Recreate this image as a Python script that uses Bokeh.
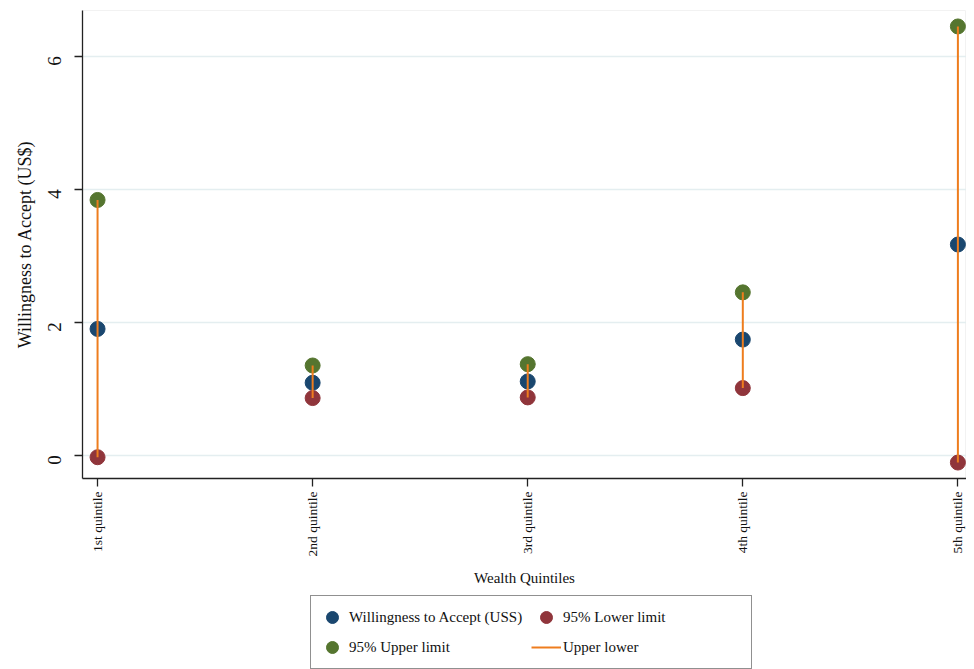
import math
from bokeh.plotting import figure
from bokeh.layouts import column
from bokeh.models import (Range1d, FixedTicker, Legend, LegendItem, ColumnDataSource)
from bokeh.embed import file_html
from bokeh.resources import INLINE

# ---- data ----
quintiles = ["1st quintile", "2nd quintile", "3rd quintile", "4th quintile", "5th quintile"]
wta = [1.90, 1.09, 1.11, 1.74, 3.17]
upper = [3.84, 1.35, 1.37, 2.45, 6.45]
lower = [-0.03, 0.86, 0.87, 1.01, -0.11]
y_ticks = [0, 2, 4, 6]
legend_labels = ["Willingness to Accept (USS)", "95% Lower limit", "95% Upper limit", "Upper lower"]

xpos = list(range(1, len(quintiles) + 1))
src = ColumnDataSource(dict(x=xpos, wta=wta, upper=upper, lower=lower))

SERIF = "Liberation Serif"
NAVY = "#1a476f"
MAROON = "#90353b"
GREEN = "#55752f"
ORANGE = "#ee7d1e"
INK = "#111111"

p = figure(frame_width=884, frame_height=468, output_backend="svg", toolbar_location=None,
           x_range=Range1d(0.93, 5.04), y_range=Range1d(-0.35, 6.69),
           min_border_left=82, min_border_top=10, min_border_right=0, min_border_bottom=112)
p.background_fill_color = "white"
p.border_fill_color = "white"
p.outline_line_color = "#f2f2f2"

r_w = p.scatter("x", "wta", source=src, size=15, color=NAVY, line_color=NAVY)
r_l = p.scatter("x", "lower", source=src, size=15, color=MAROON, line_color=MAROON)
r_u = p.scatter("x", "upper", source=src, size=15, color=GREEN, line_color=GREEN)
r_s = p.segment(x0="x", y0="upper", x1="x", y1="lower", source=src, line_color=ORANGE, line_width=2)

# axes
p.xaxis.ticker = FixedTicker(ticks=xpos)
p.xaxis.major_label_overrides = {i: q for i, q in zip(xpos, quintiles)}
p.xaxis.major_label_orientation = math.pi / 2
p.xaxis.major_label_text_font = SERIF
p.xaxis.major_label_text_font_size = "13.5px"
p.xaxis.major_label_text_color = INK
p.xaxis.axis_label = "Wealth Quintiles"
p.xaxis.axis_label_text_font = SERIF
p.xaxis.axis_label_text_font_size = "15px"
p.xaxis.axis_label_text_font_style = "normal"
p.xaxis.axis_label_text_color = INK
p.xaxis.axis_label_standoff = 11

p.yaxis.ticker = FixedTicker(ticks=y_ticks)
p.yaxis.major_label_orientation = math.pi / 2
p.yaxis.major_label_standoff = 20
p.yaxis.major_label_text_font = SERIF
p.yaxis.major_label_text_font_size = "19px"
p.yaxis.major_label_text_color = INK
p.yaxis.axis_label = "Willingness to Accept (US$)"
p.yaxis.axis_label_text_font = SERIF
p.yaxis.axis_label_text_font_size = "18px"
p.yaxis.axis_label_text_font_style = "normal"
p.yaxis.axis_label_text_color = INK
p.yaxis.axis_label_standoff = 4

for ax in (p.xaxis, p.yaxis):
    ax.major_tick_out = 8
    ax.major_tick_in = 0
    ax.minor_tick_line_color = None
    ax.axis_line_color = "#222222"
    ax.axis_line_width = 1.3
    ax.major_tick_line_color = "#222222"
    ax.major_tick_line_width = 1.3

p.xgrid.grid_line_color = None
p.ygrid.grid_line_color = "#e4eef0"
p.ygrid.grid_line_width = 1.5

# ---- legend strip below the plot (key renderers lie outside this strip's ranges) ----
p2 = figure(width=966, height=79, output_backend="svg", toolbar_location=None,
            x_range=Range1d(-20, -19), y_range=Range1d(-20, -19),
            min_border_left=0, min_border_right=0, min_border_top=0, min_border_bottom=0)
p2.axis.visible = False
p2.grid.grid_line_color = None
p2.outline_line_color = None
p2.background_fill_color = "white"
p2.border_fill_color = "white"
k_w = p2.scatter("x", "wta", source=src, size=15, color=NAVY, line_color=NAVY)
k_l = p2.scatter("x", "lower", source=src, size=15, color=MAROON, line_color=MAROON)
k_u = p2.scatter("x", "upper", source=src, size=15, color=GREEN, line_color=GREEN)
k_s = p2.segment(x0="x", y0="upper", x1="x", y1="lower", source=src, line_color=ORANGE, line_width=2)

legend = Legend(items=[LegendItem(label=lab, renderers=[r]) for lab, r in
                       zip(legend_labels, [k_w, k_l, k_u, k_s])],
                orientation="horizontal", ncols=2, location=(228, 0))
legend.label_text_font = SERIF
legend.label_text_font_size = "15px"
legend.label_text_color = INK
legend.glyph_width = 30
legend.glyph_height = 30
legend.label_width = 182
legend.label_standoff = 2
legend.spacing = 0
legend.padding = 6
legend.margin = 0
legend.border_line_color = "#222222"
legend.border_line_width = 1
p2.add_layout(legend, "center")

layout = column(p, p2, spacing=0)
open("out.html", "w").write(file_html(layout, INLINE))
